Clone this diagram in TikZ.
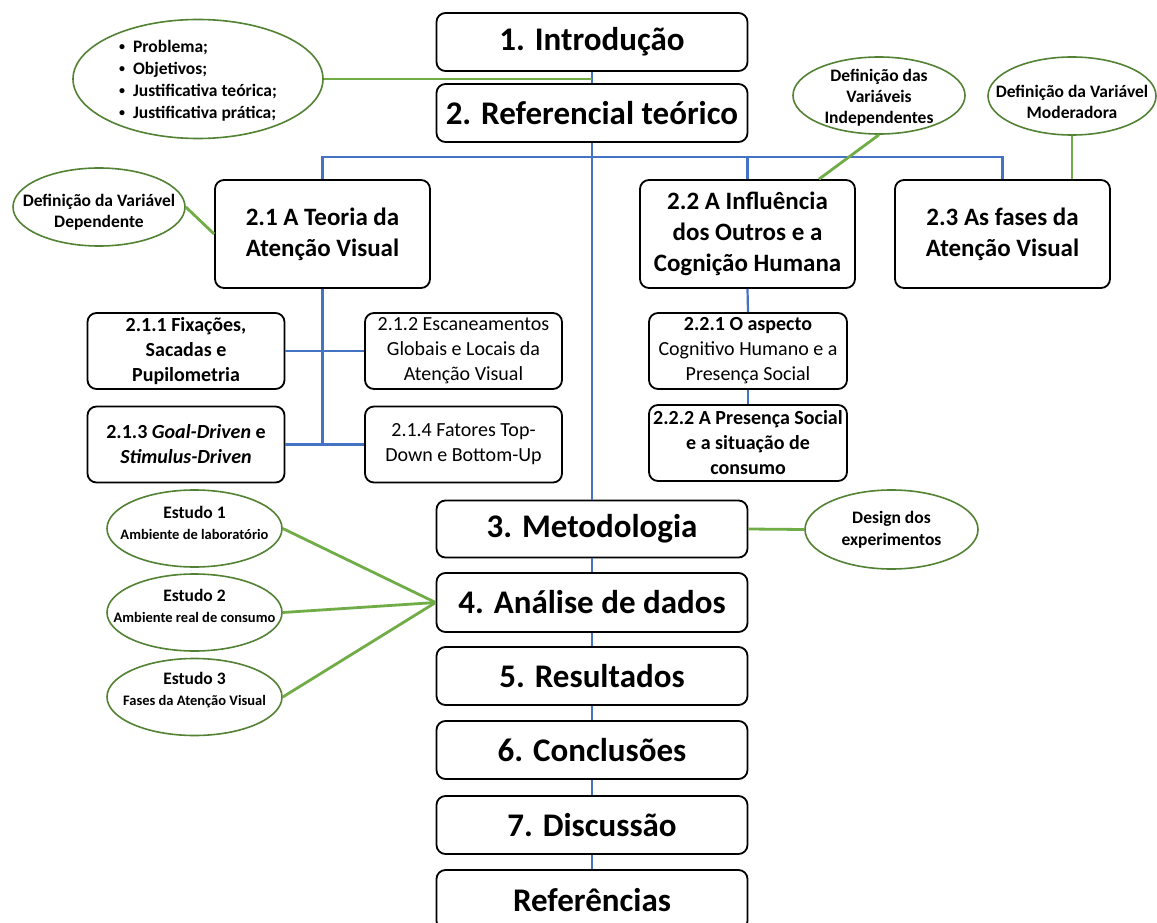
\documentclass[tikz,border=0pt]{standalone}
\usepackage{fontspec}
\setmainfont{Carlito}
\usetikzlibrary{shapes.geometric,calc}
\definecolor{lineblue}{HTML}{4472C4}
\definecolor{linegreen}{HTML}{70AD47}
\definecolor{ellgreen}{HTML}{548235}
\newcommand{\fs}[2]{\fontsize{#1}{#2}\selectfont}
\newcommand{\bul}{\makebox[14pt][l]{\raisebox{1.5pt}{\fs{12}{12}\textbullet}}}
\begin{document}
\begin{tikzpicture}[x=1pt,y=-1pt,
  box/.style={draw=black, line width=1.8pt, rounded corners=9pt, fill=white,
    align=center, inner sep=0pt},
  mainbox/.style={box, minimum width=311pt, minimum height=58pt, font=\bfseries\fs{33}{40}},
  secbox/.style={box, minimum width=215pt, minimum height=108pt, font=\bfseries\fs{25}{31}},
  subbox/.style={box, minimum width=197pt, minimum height=76pt, font=\fs{20}{25}},
  ell/.style={ellipse, draw=ellgreen, line width=1.6pt, fill=white, inner sep=0pt},
  ltxt/.style={align=center, font=\bfseries\fs{17.5}{21}},
  tree/.style={draw=lineblue, line width=2.2pt},
  note/.style={draw=linegreen, line width=2.8pt}]

\useasboundingbox (0,0) rectangle (1157,923);
\fill[white] (0,0) rectangle (1157,923);

% main chapters
\node[mainbox] (intro) at (592,42) {1. Introdução};
\node[mainbox] (ref) at (592,113) {2. Referencial teórico};
\node[mainbox, minimum height=57pt] (met) at (592,529) {3. Metodologia};
\node[mainbox, minimum height=59pt] (ana) at (592,602.5) {4. Análise de dados};
\node[mainbox] (res) at (592,676) {5. Resultados};
\node[mainbox] (con) at (592,750) {6. Conclusões};
\node[mainbox] (dis) at (592,825) {7. Discussão};
\node[mainbox, minimum height=60pt] (refs) at (592,900) {Referências};

% sections of chapter 2
\node[secbox] (t21) at (322.5,234) {2.1 A Teoria da\\Atenção Visual};
\node[secbox] (t22) at (747.5,234) {2.2 A Influência\\dos Outros e a\\Cognição Humana};
\node[secbox] (t23) at (1002.5,234) {2.3 As fases da\\Atenção Visual};

% subsections
\node[subbox, font=\bfseries\fs{20}{25}] (t211) at (186,351) {2.1.1 Fixações,\\Sacadas e\\Pupilometria};
\node[subbox] (t212) at (463.5,351) {2.1.2 Escaneamentos\\Globais e Locais da\\Atenção Visual};
\node[subbox, font=\bfseries\fs{20}{25}] (t213) at (186,444.5) {2.1.3 \textit{Goal-Driven} e\\\textit{Stimulus-Driven}};
\node[subbox] (t214) at (463.5,444.5) {2.1.4 Fatores Top-\\Down e Bottom-Up};
\node[subbox, minimum width=198pt] (t221) at (748,351) {\textbf{2.2.1 O aspecto}\\Cognitivo Humano e a\\Presença Social};
\node[subbox, minimum width=198pt, font=\bfseries\fs{20}{25}] (t222) at (748,443) {2.2.2 A Presença Social\\e a situação de\\consumo};

% notes
\node[ell, minimum width=250pt, minimum height=119pt,
  label={[align=left, font=\bfseries\fs{17.5}{22}, yshift=-1.5pt]center:{\bul Problema;\\\bul Objetivos;\\\bul Justificativa teórica;\\\bul Justificativa prática;}}] (bul) at (198,79) {};
\node[ell, minimum width=172pt, minimum height=78pt,
  label={[ltxt, yshift=-5pt]center:{Definição da Variável\\Dependente}}] (dep) at (99,207) {};
\node[ell, minimum width=172pt, minimum height=77pt,
  label={[ltxt, yshift=-2pt]center:{Definição das\\Variáveis\\Independentes}}] (ind) at (879,95.5) {};
\node[ell, minimum width=168pt, minimum height=78pt,
  label={[ltxt, yshift=-6pt]center:{Definição da Variável\\Moderadora}}] (mod) at (1072,96) {};
\node[ell, minimum width=173pt, minimum height=79pt,
  label={[ltxt, font=\bfseries\fs{17.5}{22}]center:{Design dos\\experimentos}}] (des) at (891.5,529.5) {};
\node[ell, minimum width=175pt, minimum height=77pt,
  label={[ltxt, yshift=6pt]center:{Estudo 1\\{\fs{14.5}{17}Ambiente de laboratório}}}] (e1) at (194.5,528.5) {};
\node[ell, minimum width=175pt, minimum height=77pt,
  label={[ltxt, yshift=7pt]center:{Estudo 2\\{\fs{14.5}{17}Ambiente real de consumo}}}] (e2) at (194.5,612.5) {};
\node[ell, minimum width=175pt, minimum height=77pt,
  label={[ltxt, yshift=7pt]center:{Estudo 3\\{\fs{14.5}{17}Fases da Atenção Visual}}}] (e3) at (194.5,697) {};

% structure lines
\coordinate (bus) at (592,157);
\foreach \a/\b in {intro/ref, ref/met, met/ana, ana/res, res/con, con/dis, dis/refs}
  \draw[tree] (\a.south) -- (\b.north);
\draw[tree] (t21.north) |- (bus) -| (t23.north);
\draw[tree] (bus -| t22.north) -- (t22.north);
\draw[tree] (t21.south) -- (t21.south |- t214.west);
\draw[tree] (t211.east) -- (t212.west);
\draw[tree] (t213.east) -- (t214.west);
\draw[tree] (t22.south) -- (t221.north);
\draw[tree] (t221.south) -- (t222.north);

% note links
\draw[note] (bul.east) -- (bul.east -| intro.south);
\draw[note] (dep.east) -- (t21.west);
\draw[note] (ind.south) -- ($(t22.north west)!0.83!(t22.north east)$);
\draw[note] (mod.south) -- (mod.south |- t23.north);
\draw[note] (met.east) -- (des.west);
\foreach \e in {e1,e2,e3}
  \draw[note] (\e.east) -- (ana.west);
\end{tikzpicture}
\end{document}
